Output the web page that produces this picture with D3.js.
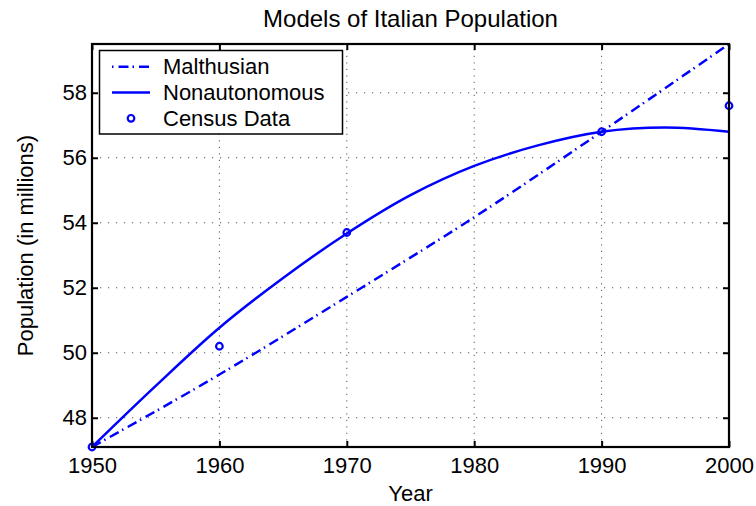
<!DOCTYPE html>
<html>
<head>
<meta charset="utf-8">
<script src="https://cdn.jsdelivr.net/npm/d3@7"></script>
<style>
  body { margin: 0; background: #fff; }
  text { font-family: "Liberation Sans", Arial, Helvetica, sans-serif; fill: #000; }
</style>
</head>
<body>
<script>
// census points
let censusYears = [1950, 1960, 1970, 1990, 2000];
let censusPop = [47.1, 50.2, 53.7, 56.8, 57.6];

let malthYears = [1950, 1960, 1970, 1980, 1990, 2000];
let malthPop = [47.1, 49.33, 51.72, 54.17, 56.8, 59.5];

let nonYears = [1950, 1955, 1960, 1965, 1970, 1975, 1980, 1985, 1990, 1995, 2000];
let nonPop = [47.1, 48.98, 50.77, 52.3, 53.67, 54.85, 55.75, 56.38, 56.8, 56.93, 56.8];

let xTicks = [1950, 1960, 1970, 1980, 1990, 2000];
let yTicks = [48, 50, 52, 54, 56, 58];

let width = 756;
let height = 506;
let margin = {top: 44, right: 27, bottom: 59, left: 92};
let blue = "#0000ff";
let dashDot = "10,4,1.5,5";

let svg = d3.select("body").append("svg")
            .attr("width", width)
            .attr("height", height);

let x = d3.scaleLinear().domain([1950, 2000]).range([margin.left, width - margin.right]);
let y = d3.scaleLinear().domain([47.1, 59.5]).range([height - margin.bottom, margin.top]);

// dotted grid
let grid = svg.append("g")
              .attr("stroke", "#555")
              .attr("stroke-width", 1);
grid.selectAll(".gx").data(xTicks.slice(1, -1)).enter().append("line")
    .attr("x1", d => x(d)).attr("x2", d => x(d))
    .attr("y1", y.range()[0]).attr("y2", y.range()[1])
    .attr("stroke-dasharray", "1.2,5.3");
grid.selectAll(".gy").data(yTicks).enter().append("line")
    .attr("y1", d => y(d)).attr("y2", d => y(d))
    .attr("x1", x.range()[0]).attr("x2", x.range()[1])
    .attr("stroke-dasharray", "1.2,6.8");

// axes, ticks inside, mirrored on top and right
let tickLen = 6;
function styleAxis(g) {
  g.select(".domain").remove();
  g.selectAll(".tick line").attr("stroke", "#000").attr("stroke-width", 2);
  g.selectAll(".tick text").style("font-size", "22px");
}
svg.append("g")
   .attr("transform", `translate(0,${y.range()[0]})`)
   .call(d3.axisBottom(x).tickValues(xTicks).tickFormat(d3.format("d")).tickSizeInner(-tickLen).tickPadding(10))
   .call(styleAxis);
svg.append("g")
   .attr("transform", `translate(0,${y.range()[1]})`)
   .call(d3.axisTop(x).tickValues(xTicks).tickFormat("").tickSizeInner(-tickLen))
   .call(styleAxis);
svg.append("g")
   .attr("transform", `translate(${x.range()[0]},0)`)
   .call(d3.axisLeft(y).tickValues(yTicks).tickFormat(d3.format("d")).tickSizeInner(-tickLen).tickPadding(5))
   .call(styleAxis);
svg.append("g")
   .attr("transform", `translate(${x.range()[1]},0)`)
   .call(d3.axisRight(y).tickValues(yTicks).tickFormat("").tickSizeInner(-tickLen))
   .call(styleAxis);

// lines
let malthLine = d3.line()
    .x((d, i) => x(malthYears[i]))
    .y(d => y(d))
    .curve(d3.curveMonotoneX);
let nonLine = d3.line()
    .x((d, i) => x(nonYears[i]))
    .y(d => y(d))
    .curve(d3.curveCatmullRom);

svg.append("path")
   .attr("d", malthLine(malthPop))
   .attr("fill", "none")
   .attr("stroke", blue)
   .attr("stroke-width", 2.5)
   .attr("stroke-dasharray", dashDot);

svg.append("path")
   .attr("d", nonLine(nonPop))
   .attr("fill", "none")
   .attr("stroke", blue)
   .attr("stroke-width", 2.5);

svg.append("g").selectAll("circle")
   .data(censusPop)
   .enter().append("circle")
   .attr("cx", (d, i) => x(censusYears[i]))
   .attr("cy", d => y(d))
   .attr("r", 3.3)
   .attr("fill", "none")
   .attr("stroke", blue)
   .attr("stroke-width", 2.2);

// frame
svg.append("rect")
   .attr("x", x.range()[0]).attr("y", y.range()[1])
   .attr("width", x.range()[1] - x.range()[0])
   .attr("height", y.range()[0] - y.range()[1])
   .attr("fill", "none")
   .attr("stroke", "#000")
   .attr("stroke-width", 2.2);

// titles
let midX = (x.range()[0] + x.range()[1]) / 2;
svg.append("text")
   .attr("x", midX)
   .attr("y", 27)
   .attr("text-anchor", "middle")
   .style("font-size", "24px")
   .text("Models of Italian Population");

svg.append("text")
   .attr("x", midX)
   .attr("y", 501)
   .attr("text-anchor", "middle")
   .style("font-size", "22px")
   .text("Year");

svg.append("text")
   .attr("transform", `translate(32.5,${(y.range()[0] + y.range()[1]) / 2}) rotate(-90)`)
   .attr("text-anchor", "middle")
   .style("font-size", "22px")
   .text("Population (in millions)");

// legend
let legend = svg.append("g");
legend.append("rect")
      .attr("x", 99.5).attr("y", 50.5)
      .attr("width", 243).attr("height", 83.5)
      .attr("fill", "#fff")
      .attr("stroke", "#000")
      .attr("stroke-width", 1.5);

let legendRows = ["Malthusian", "Nonautonomous", "Census Data"];
let rowY = d3.scalePoint().domain(legendRows).range([66.7, 118.3]);

legend.append("line")
      .attr("x1", 112).attr("x2", 150)
      .attr("y1", rowY("Malthusian")).attr("y2", rowY("Malthusian"))
      .attr("stroke", blue).attr("stroke-width", 2.5)
      .attr("stroke-dasharray", dashDot)
      .attr("stroke-dashoffset", 14);
legend.append("line")
      .attr("x1", 112).attr("x2", 150)
      .attr("y1", rowY("Nonautonomous")).attr("y2", rowY("Nonautonomous"))
      .attr("stroke", blue).attr("stroke-width", 2.5);
legend.append("circle")
      .attr("cx", 131).attr("cy", rowY("Census Data"))
      .attr("r", 3.3)
      .attr("fill", "none").attr("stroke", blue).attr("stroke-width", 2.2);

legend.selectAll(".lt").data(legendRows).enter().append("text")
      .attr("x", 163)
      .attr("y", d => rowY(d))
      .attr("dy", "0.35em")
      .style("font-size", "22px")
      .text(d => d);
</script>
</body>
</html>
